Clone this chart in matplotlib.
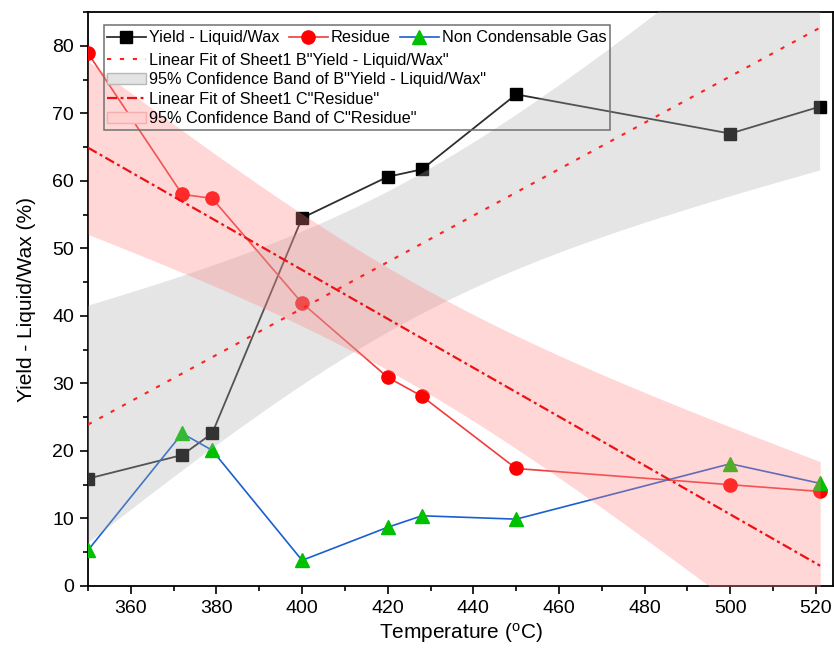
import numpy as np
import matplotlib
matplotlib.use("Agg")
import matplotlib.pyplot as plt
from matplotlib.lines import Line2D
from matplotlib.patches import Rectangle
from matplotlib.ticker import MultipleLocator

plt.rcParams['font.family'] = ['Liberation Sans', 'DejaVu Sans']

temperature = [350, 372, 379, 400, 420, 428, 450, 500, 521]
yield_liquid = [15.9, 19.4, 22.6, 54.5, 60.6, 61.7, 72.8, 67.0, 71.0]
residue = [78.9, 58.0, 57.4, 41.9, 30.9, 28.1, 17.4, 15.0, 14.0]
gas = [5.3, 22.6, 20.1, 3.8, 8.7, 10.4, 9.9, 18.1, 15.2]

T_CRIT = 2.364624  # t(0.975, df=7)


def linfit_band(x, y, xs):
    x = np.asarray(x, float)
    y = np.asarray(y, float)
    n = len(x)
    b, a = np.polyfit(x, y, 1)
    yhat = a + b * x
    s = np.sqrt(np.sum((y - yhat) ** 2) / (n - 2))
    sxx = np.sum((x - x.mean()) ** 2)
    fit = a + b * xs
    half = T_CRIT * s * np.sqrt(1.0 / n + (xs - x.mean()) ** 2 / sxx)
    return fit, fit - half, fit + half


xs = np.linspace(min(temperature), max(temperature), 200)
fy, ly, uy = linfit_band(temperature, yield_liquid, xs)
fr, lr, ur = linfit_band(temperature, residue, xs)

GRAY_BAND = dict(color='#ababab', alpha=0.3)
RED_BAND = dict(color='#ff8484', alpha=0.325)
DOT = (2.0, 4.2)
DASHDOT = (4.5, 1.6, 1.3, 1.6)

fig = plt.figure(figsize=(8.34, 6.49), dpi=100)
ax = fig.add_axes([88 / 834, 1 - 586 / 649, 745 / 834, 574 / 649])

ax.plot(temperature, yield_liquid, color='#2e2e2e', lw=1.3, marker='s', ms=8,
        mfc='#000000', mec='#000000', zorder=3)
ax.plot(temperature, residue, color='#f03c3c', lw=1.2, marker='o', ms=9.5,
        mfc='#ff0000', mec='#ff0000', zorder=3)
ax.plot(temperature, gas, color='#1a5fd0', lw=1.2, marker='^', ms=9.5,
        mfc='#00c000', mec='#00c000', zorder=3.5)

ax.fill_between(xs, ly, uy, lw=0, zorder=4, **GRAY_BAND)
ax.fill_between(xs, lr, ur, lw=0, zorder=4.1, **RED_BAND)
ax.plot(xs, fy, color='#ff2020', lw=1.5, dashes=DOT, zorder=5)
ax.plot(xs, fr, color='#ee1111', lw=1.6, dashes=DASHDOT, zorder=5)

ax.set_xlim(350, 524)
ax.set_ylim(0, 85)
ax.xaxis.set_minor_locator(MultipleLocator(10))
ax.yaxis.set_major_locator(MultipleLocator(10))
ax.yaxis.set_minor_locator(MultipleLocator(5))
ax.set_xticks(np.arange(360, 521, 20))
ax.tick_params(which='both', direction='out', top=False, right=False, width=1.2)
ax.tick_params(which='major', length=6, labelsize=14, pad=4)
ax.tick_params(which='minor', length=3.5)
for sp in ax.spines.values():
    sp.set_linewidth(1.3)

ax.set_xlabel('Temperature ($\\mathregular{^{o}}$C)', fontsize=15, labelpad=3)
ax.set_ylabel('Yield - Liquid/Wax (%)', fontsize=15, labelpad=12)

h1 = [Line2D([], [], color='#2e2e2e', lw=1.3, marker='s', ms=8, mfc='#000000', mec='#000000'),
      Line2D([], [], color='#f03c3c', lw=1.2, marker='o', ms=9.5, mfc='#ff0000', mec='#ff0000'),
      Line2D([], [], color='#1a5fd0', lw=1.2, marker='^', ms=9.5, mfc='#00c000', mec='#00c000')]
l1 = ['Yield - Liquid/Wax', 'Residue', 'Non Condensable Gas']
h2 = [Line2D([], [], color='#ff2020', lw=1.5, dashes=DOT),
      Rectangle((0, 0), 1, 1, fc='#e3e3e3', ec='#b8b8b8', lw=1),
      Line2D([], [], color='#ee1111', lw=1.6, dashes=DASHDOT),
      Rectangle((0, 0), 1, 1, fc='#ffd0d0', ec='#f4b0b0', lw=1)]
l2 = ['Linear Fit of Sheet1 B"Yield - Liquid/Wax"',
      '95% Confidence Band of B"Yield - Liquid/Wax"',
      'Linear Fit of Sheet1 C"Residue"',
      '95% Confidence Band of C"Residue"']

LEG_FS = 11.7
leg1 = ax.legend(h1, l1, ncol=3, loc='upper left', bbox_to_anchor=(0.0255, 0.968),
                 frameon=False, fontsize=LEG_FS, handlelength=2.4, handletextpad=0.2,
                 columnspacing=0.55, borderpad=0.0, borderaxespad=0.0)
leg1.set_zorder(6)
ax.add_artist(leg1)
leg2 = ax.legend(h2, l2, loc='upper left', bbox_to_anchor=(0.0255, 0.929),
                 frameon=False, fontsize=LEG_FS, handlelength=2.4, handletextpad=0.2,
                 labelspacing=0.27, borderpad=0.0, borderaxespad=0.0)
leg2.set_zorder(6)
ax.add_artist(Rectangle((0.0215, 0.7944), 0.7007 - 0.0215, 0.978 - 0.7944,
                        transform=ax.transAxes, fill=False, ec='#707070', lw=1.1, zorder=6))

fig.savefig('out.png', dpi=100)
